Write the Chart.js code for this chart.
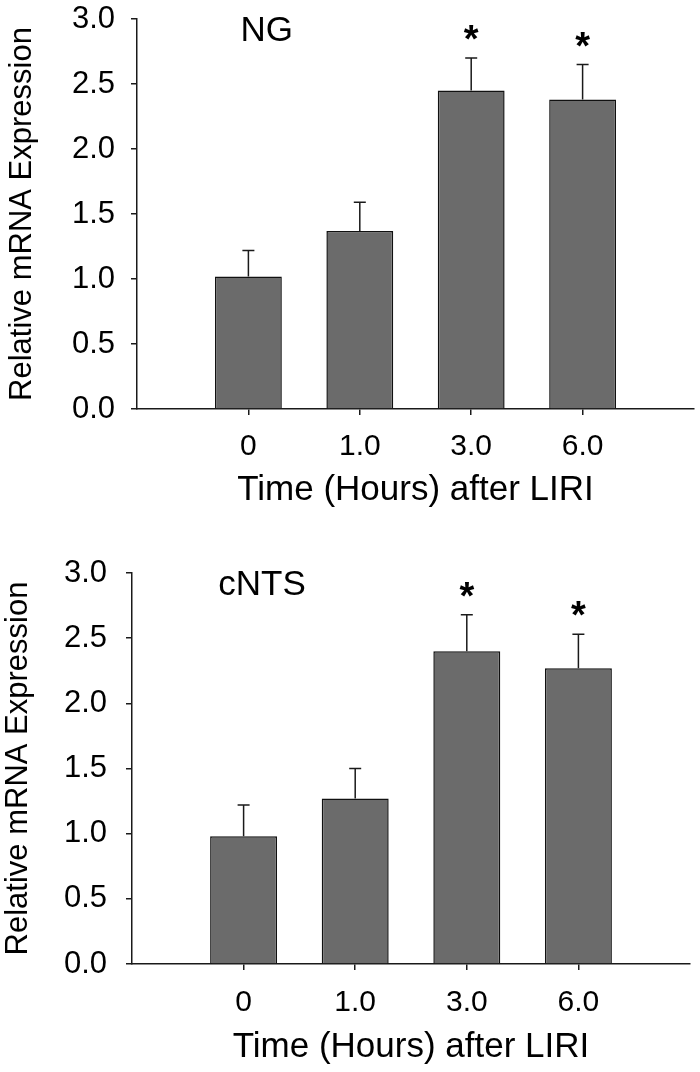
<!DOCTYPE html>
<html>
<head>
<meta charset="utf-8">
<script src="https://cdn.jsdelivr.net/npm/chart.js@4.4.1/dist/chart.umd.min.js"></script>
<style>
  html, body { margin: 0; padding: 0; background: #fff; width: 700px; height: 1072px; overflow: hidden; position: relative; }
  .box { position: absolute; left: 0; width: 700px; height: 540px; }
</style>
</head>
<body>
<div class="box" style="top:0px"><canvas id="c1"></canvas></div>
<div class="box" style="top:554px"><canvas id="c2"></canvas></div>
<script>
// ---- data ----
const categories = ['0', '1.0', '3.0', '6.0'];
const ngValues = [1.02, 1.37, 2.45, 2.38];
const ngErrors = [0.20, 0.22, 0.25, 0.27];
const ngSignificant = [false, false, true, true];
const cntsValues = [0.98, 1.27, 2.40, 2.27];
const cntsErrors = [0.24, 0.23, 0.28, 0.26];
const cntsSignificant = [false, false, true, true];
const yTickValues = [0, 0.5, 1.0, 1.5, 2.0, 2.5, 3.0];
const xTitle = 'Time (Hours) after LIRI';
const yTitle = 'Relative mRNA Expression';

const FONT = '"Liberation Sans", Arial, Helvetica, sans-serif';
Chart.defaults.font.family = FONT;
Chart.defaults.color = '#000';

const overlay = {
  id: 'overlay',
  afterDatasetsDraw(chart, args, opts) {
    const { ctx, scales: { y }, chartArea } = chart;
    const meta = chart.getDatasetMeta(0);
    ctx.save();
    opts.values.forEach((v, i) => {
      const el = meta.data[i + 1];
      const cx = el.x;
      const yBar = y.getPixelForValue(v);
      const yTop = y.getPixelForValue(v + opts.errors[i]);
      ctx.strokeStyle = '#1a1a1a';
      ctx.lineWidth = 1.5;
      ctx.beginPath();
      ctx.moveTo(cx, yBar);
      ctx.lineTo(cx, yTop);
      ctx.moveTo(cx - 6, yTop);
      ctx.lineTo(cx + 6, yTop);
      ctx.stroke();
      if (opts.sig[i]) {
        ctx.fillStyle = '#000';
        ctx.font = 'bold 38px ' + FONT;
        ctx.textAlign = 'center';
        ctx.textBaseline = 'alphabetic';
        ctx.fillText('*', cx, yTop - 6);
      }
    });
    ctx.fillStyle = '#000';
    ctx.font = '35px ' + FONT;
    ctx.textAlign = 'center';
    ctx.textBaseline = 'middle';
    ctx.fillText(opts.title, chartArea.left + 0.233 * (chartArea.right - chartArea.left), chartArea.top + 12);
    ctx.restore();
  }
};

function makeChart(id, values, errors, sig, title, g) {
  const labels = ['', ...categories, ''];
  const data = [null, ...values, null];
  const last = labels.length - 1;
  return new Chart(document.getElementById(id), {
    type: 'bar',
    data: {
      labels: labels,
      datasets: [{
        data: data,
        backgroundColor: '#6b6b6b',
        borderColor: '#111',
        borderWidth: 1.5,
        barPercentage: 0.6,
        categoryPercentage: 1.0
      }]
    },
    options: {
      responsive: true,
      maintainAspectRatio: false,
      animation: false,
      layout: { padding: { top: g.top, right: g.right, left: 0, bottom: 0 } },
      plugins: {
        legend: { display: false },
        tooltip: { enabled: false },
        overlay: { values: values, errors: errors, sig: sig, title: title }
      },
      scales: {
        x: {
          type: 'category',
          offset: false,
          grid: {
            offset: false,
            drawOnChartArea: false,
            drawTicks: true,
            tickLength: 6,
            lineWidth: 1.5,
            color: (c) => (c.index === 0 || c.index === last) ? 'rgba(0,0,0,0)' : '#1a1a1a'
          },
          border: { color: '#1a1a1a', width: 1.5 },
          ticks: { font: { size: 30 }, color: '#000', padding: g.xTickPad, autoSkip: false, maxRotation: 0 },
          title: { display: true, text: xTitle, font: { size: 35 }, color: '#000', padding: { top: 0, bottom: g.xTitlePad } },
          afterFit: (s) => { s.height = g.xHeight; s.paddingLeft = 0; s.paddingRight = 0; }
        },
        y: {
          min: 0,
          max: 3,
          afterBuildTicks: (s) => { s.ticks = yTickValues.map(v => ({ value: v })); },
          grid: { drawOnChartArea: false, drawTicks: true, tickLength: 6, lineWidth: 1.5, color: '#1a1a1a' },
          border: { color: '#1a1a1a', width: 1.5 },
          ticks: { font: { size: 31 }, color: '#000', padding: g.yTickPad, callback: (v) => Number(v).toFixed(1) },
          title: { display: true, text: yTitle, font: { size: 31 }, color: '#000', padding: { top: g.yTitlePad, bottom: 0 } },
          afterFit: (s) => { s.width = g.yWidth; s.paddingTop = 0; s.paddingBottom = 0; }
        }
      }
    },
    plugins: [overlay]
  });
}

makeChart('c1', ngValues, ngErrors, ngSignificant, 'NG',
  { top: 19, right: 6, xHeight: 131, yWidth: 137, xTickPad: 14, xTitlePad: 29, yTickPad: 16, yTitlePad: 4 });
makeChart('c2', cntsValues, cntsErrors, cntsSignificant, 'cNTS',
  { top: 19, right: 10, xHeight: 130, yWidth: 132, xTickPad: 15, xTitlePad: 26, yTickPad: 19, yTitlePad: 0 });
</script>
</body>
</html>
